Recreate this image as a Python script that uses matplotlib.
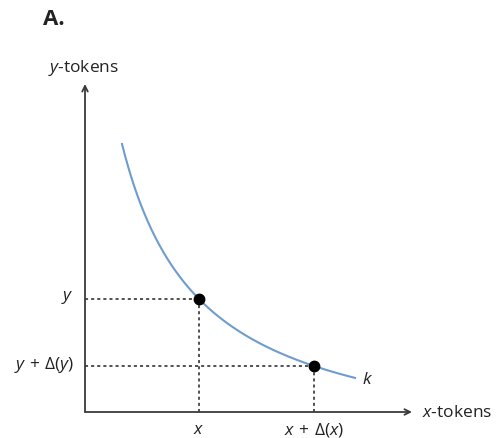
import numpy as np
import matplotlib.pyplot as plt

plt.rcParams['font.family'] = ['Open Sans', 'DejaVu Sans']
plt.rcParams['mathtext.fontset'] = 'custom'
plt.rcParams['mathtext.rm'] = 'Open Sans'
plt.rcParams['mathtext.it'] = 'Open Sans:italic'

shift_x = 41.2
shift_y = 44.4
x_punkte = [114, 229]          # x und x + Δ(x)
y_punkte = [113, 46]           # y und y + Δ(y)
x_kurve = (37, 270)            # Anfang / Ende der Kurve
k_wert = (x_punkte[0] + shift_x) * (y_punkte[0] + shift_y)

x_labels = [r'$x$', r'$x\,+\,\Delta(x)$']
y_labels = [r'$y$', r'$y\,+\,\Delta(y)$']

fig = plt.figure(figsize=(4.97, 4.39), dpi=100)
ax = fig.add_axes([0, 0, 1, 1])
ax.set_xlim(-85, 412)
ax.set_ylim(-26, 413)
ax.axis('off')

achse = '#3a3a3a'
# Achsen mit Pfeilen
ax.annotate('', xy=(327, 0), xytext=(0, 0),
            arrowprops=dict(arrowstyle='->', color=achse, lw=1.3, shrinkA=0, shrinkB=0))
ax.annotate('', xy=(0, 328), xytext=(0, 0),
            arrowprops=dict(arrowstyle='->', color=achse, lw=1.3, shrinkA=0, shrinkB=0))

# Kurve
xs = np.linspace(x_kurve[0], x_kurve[1], 300)
ys = k_wert / (xs + shift_x) - shift_y
ax.plot(xs, ys, color='#6e9ccf', lw=1.5)

# gepunktete Hilfslinien
for xp, yp in zip(x_punkte, y_punkte):
    ax.plot([0, xp], [yp, yp], color='#222222', lw=1.1, ls=(0, (2, 2)))
    ax.plot([xp, xp], [0, yp], color='#222222', lw=1.1, ls=(0, (2, 2)))

ax.plot(x_punkte, y_punkte, 'o', color='black', ms=7.5, zorder=5)

# Beschriftungen
fs = 12.5
for xp, lab in zip(x_punkte, x_labels):
    ax.text(xp, -17, lab, ha='center', va='center', fontsize=fs, color='#222222')
for yp, lab in zip(y_punkte, y_labels):
    ax.text(-11, yp + 2, lab, ha='right', va='center', fontsize=fs, color='#222222')

ax.text(337, 0, r'$x$-tokens', ha='left', va='center', fontsize=fs, color='#222222')
ax.text(-37, 345, r'$y$-tokens', ha='left', va='center', fontsize=fs, color='#222222')
ax.text(x_kurve[1] + 7, 33, r'$k$', ha='left', va='center', fontsize=fs, color='#222222')
ax.text(-42, 394, 'A.', ha='left', va='center', fontsize=16, fontweight='bold', color='#222222')

fig.savefig('out.png', dpi=100)
